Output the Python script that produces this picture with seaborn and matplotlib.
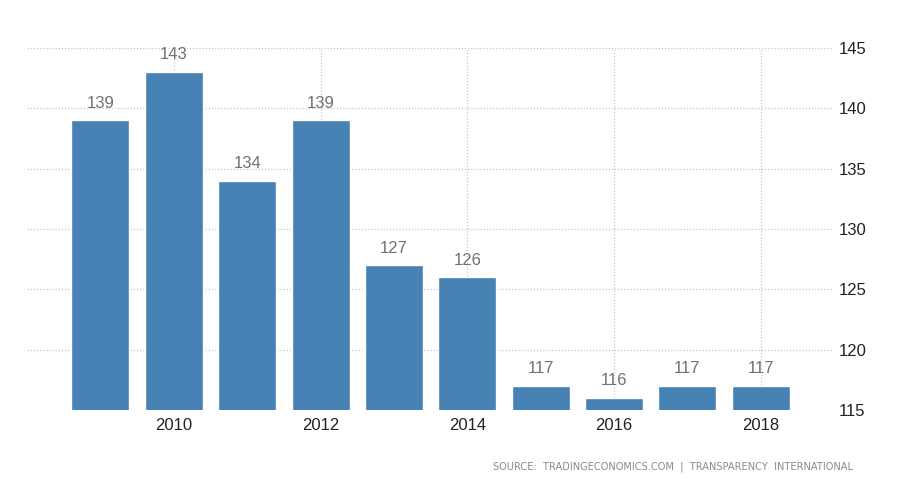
import matplotlib
matplotlib.use("Agg")
import matplotlib.pyplot as plt
import seaborn as sns

years = [2009, 2010, 2011, 2012, 2013, 2014, 2015, 2016, 2017, 2018]
rank = [139, 143, 134, 139, 127, 126, 117, 116, 117, 117]
year_ticks = [2010, 2012, 2014, 2016, 2018]
rank_ticks = [115, 120, 125, 130, 135, 140, 145]

sns.set_style("white")
plt.rcParams["font.family"] = ["Liberation Sans", "DejaVu Sans"]

fig = plt.figure(figsize=(9.1, 5), dpi=100)
ax = fig.add_axes([0.0297, 0.18, 0.8846, 0.724])

sns.barplot(x=years, y=rank, native_scale=True, width=0.79,
            color="#4682b4", saturation=1, ax=ax, zorder=3)

# value labels above bars
for y, v in zip(years, rank):
    ax.text(y, v + 0.8, str(v), ha="center", va="bottom",
            fontsize=12, color="#707070", zorder=4)

ax.set_xlim(2008, 2018.97)
ax.set_ylim(115, 145)
ax.set_xticks(year_ticks)
ax.set_yticks(rank_ticks)
ax.yaxis.tick_right()
ax.tick_params(axis="both", length=0, labelsize=12, colors="#222222")
ax.tick_params(axis="y", pad=5)
ax.tick_params(axis="x", pad=6)
ax.grid(True, linestyle=(0, (1, 1.5)), color="#c8c8c8", linewidth=0.9, zorder=0)
ax.set_axisbelow(True)
for s in ax.spines.values():
    s.set_visible(False)
ax.set_xlabel("")
ax.set_ylabel("")

fig.text(0.937, 0.066, "SOURCE:  TRADINGECONOMICS.COM  |  TRANSPARENCY  INTERNATIONAL",
         ha="right", va="center", fontsize=7.1, color="#8a8a8a",
         family="DejaVu Sans")

fig.savefig("out.png", dpi=100)
